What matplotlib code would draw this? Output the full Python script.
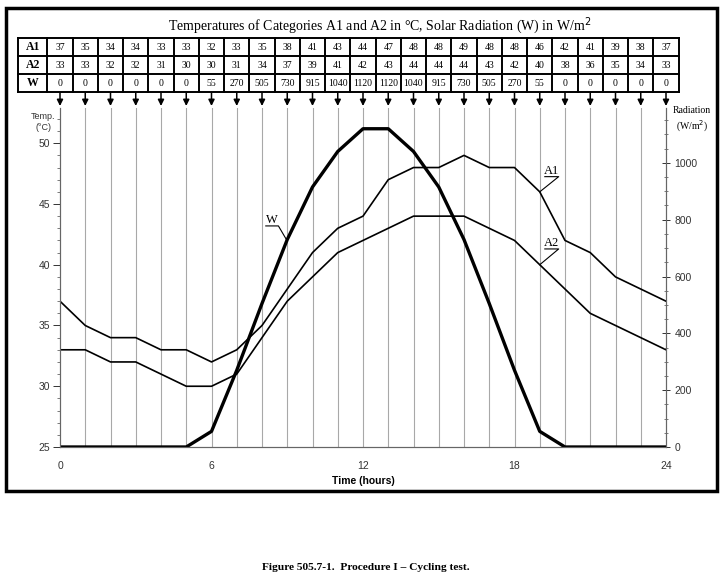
import numpy as np
import matplotlib
matplotlib.use('Agg')
import matplotlib.pyplot as plt
import matplotlib.transforms as mtransforms
from matplotlib.patches import Rectangle

hours = np.arange(0, 25)
a1 = [37, 35, 34, 34, 33, 33, 32, 33, 35, 38, 41, 43, 44, 47, 48, 48, 49, 48, 48, 46, 42, 41, 39, 38, 37]
a2 = [33, 33, 32, 32, 31, 30, 30, 31, 34, 37, 39, 41, 42, 43, 44, 44, 44, 43, 42, 40, 38, 36, 35, 34, 33]
w = [0, 0, 0, 0, 0, 0, 55, 270, 505, 730, 915, 1040, 1120, 1120, 1040, 915, 730, 505, 270, 55, 0, 0, 0, 0, 0]
row_names = ['A1', 'A2', 'W']
x_ticks = [0, 6, 12, 18, 24]

W, H = 724, 579
serif = ['Liberation Serif', 'DejaVu Serif']
sans = ['Liberation Sans', 'DejaVu Sans']


def fy(py):
    return 1 - py / H


fig = plt.figure(figsize=(W / 100, H / 100), dpi=100)
ax = fig.add_axes([60 / W, fy(447), 606 / W, 339 / H])
ax2 = ax.twinx()

ax.set_xlim(0, 24)
ax.set_ylim(25, 52.9)
ax2.set_ylim(0, 1193)

# vertical hour lines
for h in hours[1:-1]:
    ax.axvline(h, color='#a8a8a8', lw=0.8, zorder=0)

ax.plot(hours, a1, color='black', lw=1.2)
ax.plot(hours, a2, color='black', lw=1.2)
ax2.plot(hours, w, color='black', lw=2.4)

ax.spines['top'].set_visible(False)
ax2.spines['top'].set_visible(False)
for a in (ax, ax2):
    for s in ['left', 'right', 'bottom']:
        a.spines[s].set_color('#666666')
        a.spines[s].set_linewidth(0.8)

ax.set_xticks(x_ticks)
ax.set_yticks(np.arange(25, 51, 5))
ax.set_yticks(np.arange(25, 53, 1), minor=True)
ax2.set_yticks(np.arange(0, 1001, 200))
ax2.set_yticks(np.arange(0, 1151, 50), minor=True)
ax.tick_params(axis='x', length=0, pad=10, labelsize=7.5, colors='#333333')
ax.tick_params(axis='y', which='major', length=5, width=0.7, pad=2, labelsize=7.5, colors='#333333')
ax.tick_params(axis='y', which='minor', length=2.5, width=0.6, colors='#666666')
ax2.tick_params(axis='y', which='major', direction='inout', length=6, width=0.7, pad=3, labelsize=7.5, colors='#333333')
ax2.tick_params(axis='y', which='minor', direction='inout', length=3, width=0.6, colors='#666666')
for lab in ax.get_xticklabels() + ax.get_yticklabels() + ax2.get_yticklabels():
    lab.set_family(sans)

ax.set_xlabel('Time (hours)', fontsize=7.5, fontweight='bold', family=sans, labelpad=4)

fig.text(43 / W, fy(122), 'Temp.\n(°C)', ha='center', va='center', fontsize=6.5,
         family=sans, color='#333333', linespacing=1.3)
fig.text(692 / W, fy(120), 'Radiation\n(W/m$^2$)', ha='center', va='center', fontsize=7,
         family=serif, linespacing=1.3)


# curve labels with underline and leader
def label(axis, txt, x0, x1, yu, px, py):
    axis.plot([x0, x1, px], [yu, yu, py], color='black', lw=0.8, clip_on=False)
    axis.text((x0 + x1) / 2, yu, txt, ha='center', va='bottom', fontsize=9, family=serif)


label(ax2, 'W', 8.15, 8.65, 778, 8.98, 728)
label(ax, 'A1', 19.2, 19.75, 47.25, 19.0, 46)
label(ax, 'A2', 19.2, 19.75, 41.3, 19.0, 40)

# title and table above the plot
fig.text(380 / W, fy(30), 'Temperatures of Categories A1 and A2 in °C, Solar Radiation (W) in W/m$^2$',
         ha='center', va='baseline', fontsize=10, family=serif)

blend = mtransforms.blended_transform_factory(ax.transData, fig.transFigure)
row_y = [38, 56, 74, 92]
x_left, x_lab = -1.66, -0.5
for py in row_y:
    ax.plot([x_left, 24.5], [fy(py), fy(py)], color='black', lw=1.4, transform=blend, clip_on=False)
for xv in [x_left] + list(np.arange(-0.5, 25, 1)):
    ax.plot([xv, xv], [fy(38), fy(92)], color='black', lw=1.4, transform=blend, clip_on=False)

rows = [a1, a2, w]
for r, (name, vals) in enumerate(zip(row_names, rows)):
    yc = fy((row_y[r] + row_y[r + 1]) / 2)
    ax.text((x_left + x_lab) / 2, yc, name, ha='center', va='center', fontsize=8.5,
            fontweight='bold', family=serif, transform=blend)
    for h, v in zip(hours, vals):
        ax.text(h, yc, str(v), ha='center', va='center', fontsize=7, family=serif, transform=blend)

for h in hours:
    ax.annotate('', xy=(h, fy(106)), xycoords=blend, xytext=(h, fy(93)), textcoords=blend,
                arrowprops=dict(arrowstyle='-|>', color='black', lw=1.1, mutation_scale=9,
                                shrinkA=0, shrinkB=0), annotation_clip=False)

fig.patches.append(Rectangle((6 / W, fy(491)), 711 / W, 483 / H, transform=fig.transFigure,
                             fill=False, lw=2.5, edgecolor='black'))

fig.text(366 / W, fy(567), 'Figure 505.7-1.  Procedure I \u2013 Cycling test.', ha='center', va='center',
         fontsize=8.2, fontweight='bold', family=serif)

fig.savefig('out.png', dpi=100)
